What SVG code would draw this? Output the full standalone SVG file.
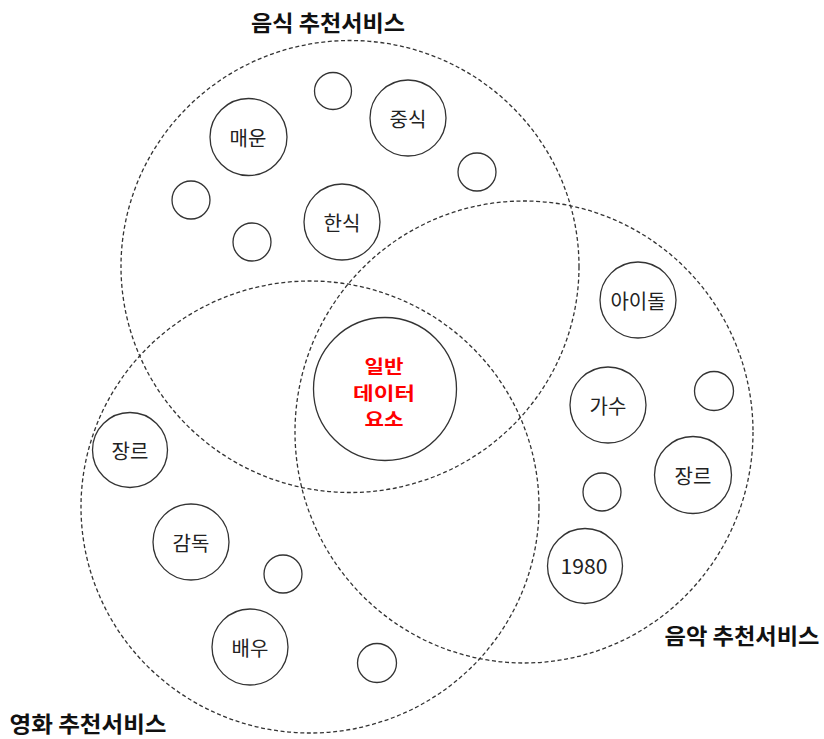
<svg xmlns="http://www.w3.org/2000/svg" width="824" height="739" viewBox="0 0 824 739">
<style>
.set{fill:none;stroke:#333;stroke-width:1.3;stroke-dasharray:4 2.6}
.s{fill:none;stroke:#333;stroke-width:1.3}
.t{font-family:"Noto Sans CJK KR","Noto Sans",sans-serif;font-size:20px;fill:#222;text-anchor:middle}
.title{font-family:"Noto Sans CJK KR","Noto Sans",sans-serif;font-size:22px;font-weight:bold;fill:#111;text-anchor:middle}
.core{font-family:"Noto Sans CJK KR","Noto Sans",sans-serif;font-size:18px;font-weight:bold;fill:#ff0000;text-anchor:middle}
</style>
<rect width="824" height="739" fill="#fff"/>
<g id="sets">
<g id="food-set"><ellipse class="set" cx="350" cy="266.5" rx="229" ry="226"/><text class="title" x="328" y="31" textLength="154" lengthAdjust="spacingAndGlyphs">음식 추천서비스</text></g>
<g id="music-set"><ellipse class="set" cx="524" cy="432" rx="229" ry="231"/><text class="title" x="742" y="644" textLength="155" lengthAdjust="spacingAndGlyphs">음악 추천서비스</text></g>
<g id="movie-set"><ellipse class="set" cx="310" cy="507" rx="229" ry="226"/><text class="title" x="88" y="732" textLength="157" lengthAdjust="spacingAndGlyphs">영화 추천서비스</text></g>
</g>
<g id="core"><circle class="s" cx="385" cy="389" r="71.5"/>
<text class="core" x="384" y="373" textLength="39" lengthAdjust="spacingAndGlyphs">일반</text><text class="core" x="384" y="399.5" textLength="62" lengthAdjust="spacingAndGlyphs">데이터</text><text class="core" x="384" y="426" textLength="39" lengthAdjust="spacingAndGlyphs">요소</text></g>
<g id="food-nodes">
<g id="f-small1"><circle class="s" cx="333" cy="91" r="18.5"/></g>
<g id="f-jungsik"><circle class="s" cx="408" cy="118" r="38"/><text class="t" x="408" y="127">중식</text></g>
<g id="f-maeun"><circle class="s" cx="248.5" cy="137" r="38.5"/><text class="t" x="248" y="146">매운</text></g>
<g id="f-small2"><circle class="s" cx="477" cy="172" r="19"/></g>
<g id="f-small3"><circle class="s" cx="191" cy="200" r="19"/></g>
<g id="f-hansik"><circle class="s" cx="342" cy="222" r="38"/><text class="t" x="342" y="231">한식</text></g>
<g id="f-small4"><circle class="s" cx="252" cy="242" r="19"/></g>
</g>
<g id="music-nodes">
<g id="m-idol"><circle class="s" cx="638" cy="300" r="38"/><text class="t" x="638" y="309">아이돌</text></g>
<g id="m-singer"><circle class="s" cx="608" cy="405" r="38"/><text class="t" x="608" y="414">가수</text></g>
<g id="m-small1"><circle class="s" cx="714" cy="391" r="19.5"/></g>
<g id="m-genre"><circle class="s" cx="693" cy="475" r="38.5"/><text class="t" x="693" y="484">장르</text></g>
<g id="m-small2"><circle class="s" cx="602" cy="492" r="19"/></g>
<g id="m-1980"><circle class="s" cx="585" cy="566" r="37.5"/><text class="t" x="584" y="574" font-size="22" textLength="47" lengthAdjust="spacingAndGlyphs">1980</text></g>
</g>
<g id="movie-nodes">
<g id="v-genre"><circle class="s" cx="130" cy="450" r="37.5"/><text class="t" x="130" y="459">장르</text></g>
<g id="v-director"><circle class="s" cx="191" cy="542" r="38"/><text class="t" x="191" y="551">감독</text></g>
<g id="v-small1"><circle class="s" cx="283" cy="574" r="19"/></g>
<g id="v-actor"><circle class="s" cx="250" cy="647" r="38"/><text class="t" x="250" y="656">배우</text></g>
<g id="v-small2"><circle class="s" cx="377" cy="663" r="19.5"/></g>
</g>
</svg>
